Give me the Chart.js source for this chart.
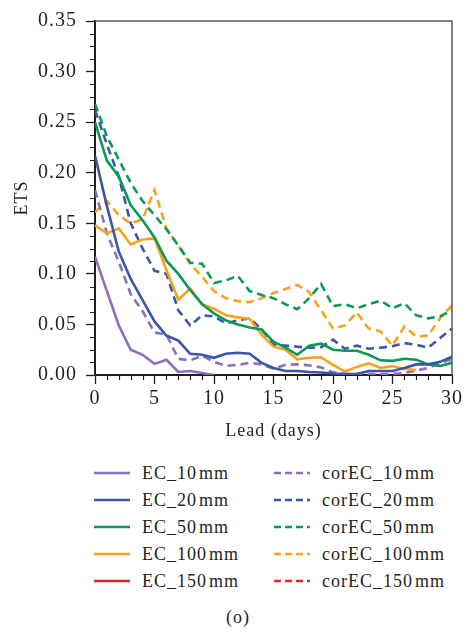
<!DOCTYPE html>
<html>
<head>
<meta charset="utf-8">
<script src="https://cdn.jsdelivr.net/npm/chart.js@4/dist/chart.umd.min.js"></script>
<style>
  html, body { margin: 0; padding: 0; background: #fff; }
  #wrap { position: relative; width: 466px; height: 633px; font-family: "Liberation Serif", "Times New Roman", serif; color: #231f20; }
  #c { position: absolute; left: 0; top: 0; }
  .leg { position: absolute; display: flex; align-items: center; font-size: 18px; letter-spacing: 1px; white-space: nowrap; height: 24px; }
  .leg svg { margin-right: 12px; }
  .leg .u { margin-left: 2px; }
  #cap { position: absolute; left: 0; width: 476px; top: 607px; text-align: center; font-size: 18px; letter-spacing: 1px; }
</style>
</head>
<body>
<div id="wrap">
  <canvas id="c" width="466" height="450"></canvas>
  <div id="legend"></div>
  <div id="cap">(o)</div>
</div>
<script>
// ---- data ----
const leadDays = [0,1,2,3,4,5,6,7,8,9,10,11,12,13,14,15,16,17,18,19,20,21,22,23,24,25,26,27,28,29,30];
const yTicks = [0, 0.05, 0.10, 0.15, 0.20, 0.25, 0.30, 0.35];
const xTicks = [0, 5, 10, 15, 20, 25, 30];

const EC_10mm  = [0.117,0.083,0.049,0.025,0.020,0.011,0.015,0.003,0.004,0.002,0.000];
const EC_20mm  = [0.217,0.167,0.122,0.095,0.074,0.053,0.039,0.034,0.021,0.020,0.017,0.021,0.022,0.021,0.012,0.007,0.004,0.004,0.003,0.0025,0.0015,0.001,0.001,0.004,0.004,0.004,0.007,0.0105,0.0105,0.013,0.018];
const EC_50mm  = [0.250,0.212,0.196,0.168,0.153,0.136,0.113,0.100,0.084,0.070,0.061,0.054,0.050,0.047,0.045,0.033,0.027,0.020,0.029,0.031,0.025,0.024,0.024,0.020,0.0145,0.014,0.016,0.015,0.0105,0.009,0.012];
const EC_100mm = [0.148,0.140,0.145,0.129,0.134,0.135,0.104,0.0745,0.0855,0.070,0.0655,0.059,0.057,0.0555,0.040,0.028,0.025,0.0155,0.017,0.0175,0.010,0.0035,0.008,0.0115,0.007,0.0088,0.006,0.005];
const EC_150mm = [];
const corEC_10mm  = [0.183,0.140,0.112,0.080,0.063,0.042,0.040,0.016,0.0145,0.019,0.013,0.009,0.010,0.012,0.0105,0.006,0.010,0.0106,0.0095,0.0075,0.0026,0.001,0.001,0.001,0.001,0.001,0.002,0.0045,0.007,0.012,0.0155];
const corEC_20mm  = [0.262,0.228,0.196,0.150,0.125,0.103,0.100,0.064,0.049,0.059,0.058,0.051,0.054,0.056,0.045,0.030,0.029,0.028,0.027,0.0275,0.035,0.026,0.029,0.026,0.027,0.0285,0.0315,0.030,0.027,0.0365,0.046];
const corEC_50mm  = [0.268,0.236,0.213,0.190,0.172,0.158,0.144,0.128,0.111,0.110,0.091,0.0935,0.098,0.083,0.079,0.076,0.070,0.065,0.076,0.090,0.068,0.070,0.066,0.070,0.0735,0.066,0.071,0.059,0.056,0.058,0.064];
const corEC_100mm = [0.161,0.172,0.158,0.150,0.154,0.183,0.145,0.128,0.110,0.097,0.083,0.076,0.073,0.072,0.076,0.081,0.085,0.089,0.082,0.064,0.046,0.049,0.062,0.046,0.043,0.029,0.048,0.038,0.039,0.056,0.069];
const corEC_150mm = [];

const seriesNames = ["EC_10mm","EC_20mm","EC_50mm","EC_100mm","EC_150mm","corEC_10mm","corEC_20mm","corEC_50mm","corEC_100mm","corEC_150mm"];
const seriesData = [EC_10mm,EC_20mm,EC_50mm,EC_100mm,EC_150mm,corEC_10mm,corEC_20mm,corEC_50mm,corEC_100mm,corEC_150mm];
const palette = ["#8c6fbf","#3b55a8","#0a9a55","#f7a21f","#e0262b"];

const FONT = "'Liberation Serif', 'Times New Roman', serif";

const datasets = seriesNames.map((name, i) => ({
  label: name,
  data: seriesData[i].map((v, j) => ({x: leadDays[j], y: v})),
  borderColor: palette[i % 5],
  backgroundColor: palette[i % 5],
  borderWidth: 2.6,
  borderDash: i >= 5 ? [8, 5] : [],
  pointRadius: 0,
  tension: 0,
  fill: false
}));

const spacingPlugin = {
  id: 'spacing',
  beforeInit(chart) { chart.ctx.letterSpacing = '1px'; },
  beforeLayout(chart) { chart.ctx.letterSpacing = '1px'; },
  beforeDraw(chart) { chart.ctx.letterSpacing = '1px'; }
};

const framePlugin = {
  id: 'frame',
  afterDraw(chart) {
    const {ctx, chartArea: a, scales: {x, y}} = chart;
    ctx.save();
    ctx.strokeStyle = '#5a5a5a';
    ctx.lineWidth = 1.5;
    ctx.beginPath();
    ctx.moveTo(a.left, a.top); ctx.lineTo(a.right, a.top);
    ctx.lineTo(a.right, a.bottom);
    ctx.stroke();
    ctx.strokeStyle = '#231f20';
    ctx.lineWidth = 1.2;
    ctx.beginPath();
    for (const d of leadDays) {
      if (d % 5 === 0) continue;
      const px = Math.round(x.getPixelForValue(d)) + 0.5;
      ctx.moveTo(px, a.bottom); ctx.lineTo(px, a.bottom + 5);
    }
    for (let k = 0; k <= 28; k++) {
      if (k % 4 === 0) continue;
      const py = Math.round(y.getPixelForValue(k * 0.0125)) + 0.5;
      ctx.moveTo(a.left, py); ctx.lineTo(a.left - 5, py);
    }
    ctx.stroke();
    ctx.restore();
  }
};

const chart = new Chart(document.getElementById('c'), {
  type: 'line',
  data: { datasets },
  options: {
    responsive: false,
    devicePixelRatio: 1,
    animation: false,
    layout: { padding: { left: 0, top: 14, right: 10, bottom: 0 } },
    plugins: { legend: { display: false }, tooltip: { enabled: false } },
    scales: {
      x: {
        type: 'linear', min: 0, max: 30,
        afterBuildTicks: s => { s.ticks = xTicks.map(v => ({value: v})); },
        afterFit: s => { s.height = 75; },
        ticks: { color: '#231f20', font: { family: FONT, size: 20 }, padding: 3, maxRotation: 0 },
        grid: { drawOnChartArea: false, tickLength: 9, tickColor: '#231f20', tickWidth: 1.3 },
        border: { color: '#231f20', width: 2 },
        title: { display: true, text: 'Lead (days)', color: '#231f20', font: { family: FONT, size: 18 }, padding: { top: 0, bottom: 8 } }
      },
      y: {
        type: 'linear', min: 0, max: 0.35,
        afterBuildTicks: s => { s.ticks = yTicks.map(v => ({value: v})); },
        afterFit: s => { s.width = 95; },
        ticks: { color: '#231f20', font: { family: FONT, size: 20 }, padding: 9, callback: v => Number(v).toFixed(2) },
        grid: { drawOnChartArea: false, tickLength: 9, tickColor: '#231f20', tickWidth: 1.3 },
        border: { color: '#231f20', width: 2 },
        title: { display: true, text: 'ETS', color: '#231f20', font: { family: FONT, size: 18 }, padding: { top: 11, bottom: 0 } }
      }
    }
  },
  plugins: [spacingPlugin, framePlugin]
});

const legend = document.getElementById('legend');
const rowY = [473, 500, 527, 554, 581];
chart.data.datasets.forEach((ds, i) => {
  const col = i < 5 ? 0 : 1;
  const row = i % 5;
  const el = document.createElement('div');
  el.className = 'leg';
  el.style.left = (col === 0 ? 94 : 274) + 'px';
  el.style.top = (rowY[row] - 12) + 'px';
  const dash = ds.borderDash.length ? 'stroke-dasharray="7 4"' : '';
  const m = ds.label.match(/^(.*?)(mm)$/);
  el.innerHTML = `<svg width="36" height="6"><line x1="0" y1="3" x2="36" y2="3" stroke="${ds.borderColor}" stroke-width="2.6" ${dash}/></svg>` +
    `<span>${m[1]}<span class="u">${m[2]}</span></span>`;
  legend.appendChild(el);
});
</script>
</body>
</html>
